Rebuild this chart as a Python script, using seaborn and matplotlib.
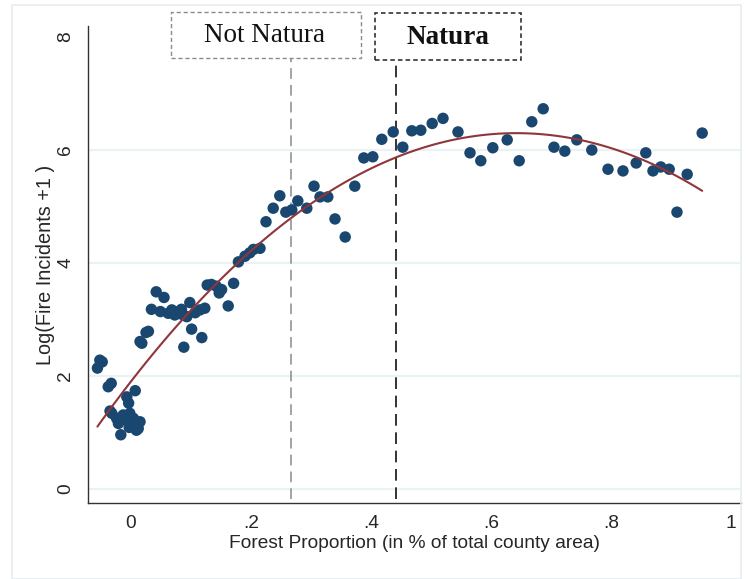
import numpy as np
import pandas as pd
import matplotlib
matplotlib.use("Agg")
import matplotlib.pyplot as plt
from matplotlib.patches import Rectangle
import seaborn as sns

sns.set_style("white")
plt.rcParams['font.family'] = ['Liberation Sans', 'DejaVu Sans']

forest = [
    -0.052, -0.048, -0.056, -0.038, -0.033, 0.007, -0.007, -0.004, -0.035,
    -0.032, -0.024, -0.021, -0.013, -0.007, -0.002, 0.004, 0.007, 0.012,
    0.015, 0.009, -0.017, -0.003,
    0.015, 0.018, 0.025, 0.029, 0.042, 0.055, 0.034, 0.049, 0.062, 0.068,
    0.073, 0.079, 0.084, 0.087, 0.098, 0.093, 0.107, 0.115, 0.123, 0.101,
    0.118, 0.088, 0.127, 0.134, 0.142, 0.151, 0.147, 0.171, 0.162, 0.179,
    0.190, 0.198, 0.204, 0.215,
    0.225, 0.237, 0.248, 0.258, 0.268, 0.278, 0.293, 0.305, 0.315, 0.328,
    0.340, 0.357, 0.373, 0.388, 0.403,
    0.418, 0.437, 0.453, 0.468, 0.483, 0.502, 0.520, 0.545, 0.565, 0.583,
    0.603, 0.627, 0.647, 0.668, 0.687, 0.705, 0.723, 0.743, 0.768, 0.795,
    0.820, 0.842, 0.858, 0.870, 0.883, 0.897, 0.910, 0.927, 0.952,
]
log_fire = [
    2.28, 2.25, 2.14, 1.81, 1.87, 1.74, 1.63, 1.52, 1.38,
    1.34, 1.25, 1.16, 1.31, 1.22, 1.34, 1.25, 1.13, 1.07,
    1.19, 1.04, 0.96, 1.09,
    2.61, 2.58, 2.77, 2.79, 3.49, 3.39, 3.18, 3.14, 3.11, 3.17,
    3.08, 3.14, 3.18, 3.08, 3.30, 3.05, 3.12, 3.17, 3.20, 2.83,
    2.68, 2.51, 3.61, 3.62, 3.59, 3.53, 3.47, 3.64, 3.24, 4.02,
    4.12, 4.18, 4.24, 4.26,
    4.73, 4.97, 5.19, 4.90, 4.94, 5.10, 4.97, 5.36, 5.17, 5.17,
    4.78, 4.46, 5.36, 5.86, 5.88,
    6.19, 6.32, 6.05, 6.34, 6.35, 6.47, 6.56, 6.32, 5.95, 5.81,
    6.04, 6.18, 5.81, 6.50, 6.73, 6.05, 5.98, 6.18, 6.00, 5.66,
    5.63, 5.77, 5.95, 5.63, 5.70, 5.66, 4.90, 5.57, 6.30,
]
x_ticks = [0, 0.2, 0.4, 0.6, 0.8, 1.0]
x_tick_labels = ["0", ".2", ".4", ".6", ".8", "1"]
y_ticks = [0, 2, 4, 6, 8]
y_tick_labels = ["0", "2", "4", "6", "8"]
thresholds = [0.267, 0.442]
box_labels = ["Not Natura", "Natura"]

df = pd.DataFrame({"forest": forest, "log_fire": log_fire})

W, H = 746, 579
fig = plt.figure(figsize=(W / 100, H / 100), dpi=100)
ax = fig.add_axes([88 / W, 1 - 503 / H, (741 - 88) / W, (503 - 26) / H])

navy = "#1a476f"
maroon = "#90353b"

# gridlines
for yv in [0, 2, 4, 6]:
    ax.axhline(yv, color="#eaf2f3", lw=1.6, zorder=0)

sns.scatterplot(data=df, x="forest", y="log_fire", ax=ax, color=navy,
                s=68, edgecolor="none", zorder=3)
sns.regplot(data=df, x="forest", y="log_fire", ax=ax, order=2, ci=None,
            scatter=False, line_kws=dict(color=maroon, lw=1.5, zorder=4))

ax.set_xlim(-0.0717, 1.0167)
ax.set_ylim(-0.248, 8.195)

# threshold lines
ax.vlines(thresholds[0], -0.17, 7.63, colors="#8a8a8a", linestyles=(0, (7, 4)), lw=1.1, zorder=2)
ax.vlines(thresholds[1], -0.17, 7.59, colors="#111111", linestyles=(0, (7, 4)), lw=1.2, zorder=2)

ax.set_xticks(x_ticks)
ax.set_xticklabels(x_tick_labels, fontsize=13.8)
ax.set_yticks(y_ticks)
ax.set_yticklabels(y_tick_labels, fontsize=13.8, rotation=90, va="center")
ax.tick_params(axis="both", direction="out", length=6, width=1, color="#333333", pad=3)
ax.tick_params(axis="y", pad=4)

for s in ["top", "right"]:
    ax.spines[s].set_visible(False)
for s in ["left", "bottom"]:
    ax.spines[s].set_color("#333333")
    ax.spines[s].set_linewidth(1.0)

ax.set_xlabel("Forest Proportion (in % of total county area)", fontsize=13.8, labelpad=2)
ax.set_ylabel("Log(Fire Incidents +1 )", fontsize=14.3, labelpad=1.5)

# outer faint frame
fig.add_artist(Rectangle((12 / W, 0), (741 - 12) / W, 1 - 5 / H, transform=fig.transFigure,
                         fill=False, ec="#e6eef0", lw=1.2))

# boxes
fig.add_artist(Rectangle((171 / W, 1 - 58 / H), (361 - 171) / W, (58 - 12) / H,
                         transform=fig.transFigure, fill=True, fc="white",
                         ec="#8a8a8a", lw=1.0, ls=(0, (3, 2))))
fig.add_artist(Rectangle((375 / W, 1 - 60 / H), (521 - 375) / W, (60 - 13) / H,
                         transform=fig.transFigure, fill=True, fc="white",
                         ec="#222222", lw=1.1, ls=(0, (3, 2))))
fig.text(265 / W, 1 - 36 / H, box_labels[0], ha="center", va="center",
         fontsize=19.5, family=["Liberation Serif", "DejaVu Serif"], color="#111111")
fig.text(448 / W, 1 - 38 / H, box_labels[1], ha="center", va="center",
         fontsize=19.5, fontweight="bold", family=["Liberation Serif", "DejaVu Serif"], color="#111111")

fig.savefig("out.png", dpi=100, facecolor="white")
